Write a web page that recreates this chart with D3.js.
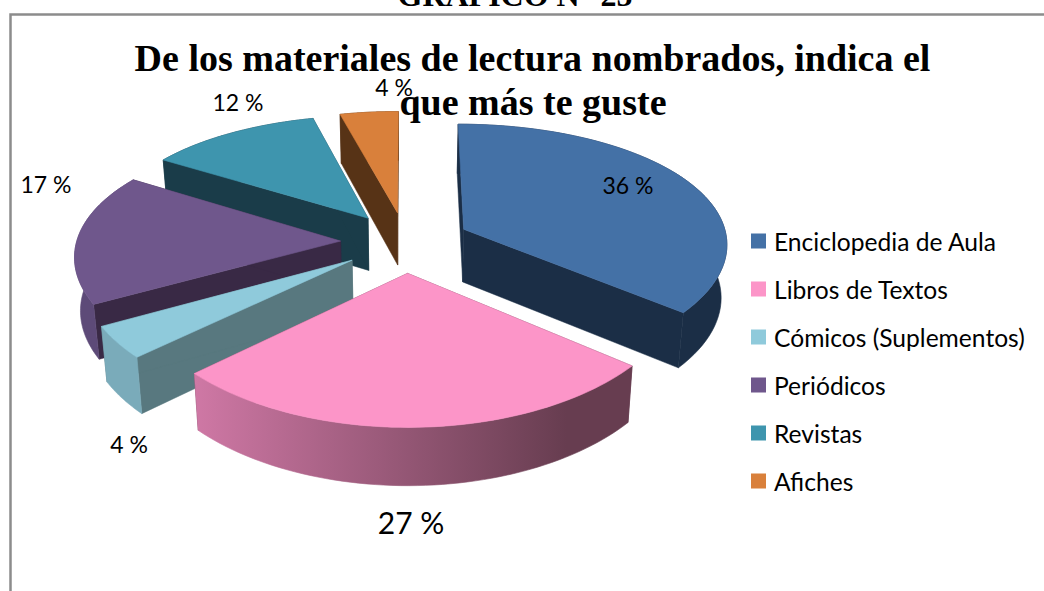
<!DOCTYPE html>
<html>
<head>
<meta charset="utf-8">
<script src="https://cdn.jsdelivr.net/npm/d3@7"></script>
<style>
  html, body { margin: 0; padding: 0; background: #fff; overflow: hidden; }
  svg { display: block; }
  .label { font-family: Lato, "Open Sans", sans-serif; fill: #000; }
  .title { font-family: "Liberation Serif", serif; font-weight: bold; fill: #000; }
</style>
</head>
<body>
<svg id="chart" width="1044" height="591"></svg>
<script>
var categories = ["Enciclopedia de Aula", "Libros de Textos", "Cómicos (Suplementos)", "Periódicos", "Revistas", "Afiches"];
var values = [36, 27, 4, 17, 12, 4];

// styles, same order as categories
var topColors = ["#4471a6", "#fc95c8", "#8fcadb", "#6f578c", "#3e95ae", "#d9803b"];
var faceColors = ["#1b2e46", "#673d50", "#58787f", "#392945", "#1a3c49", "#573316"];
var rimLeft = ["#1b2e46", "#cf78a5", "#7aabba", "#5d4a78", "#1a3c49", "#573316"];
var rimRight = ["#1b2e46", "#673d50", "#7aabba", "#5d4a78", "#1a3c49", "#573316"];

// label anchors (Excel had these dragged by hand)
var labelX = [628, 411, 129, 46, 238, 394];
var labelY = [185, 522, 444, 184, 102, 87];
var labelSize = [23, 30, 23, 23, 23, 23];

var drawOrder = [5, 4, 0, 3, 2, 1];

var cx = 405.5, cy = 242;
var radius = 264, explode = 65, tilt = 0.466, perspX = 2500, perspY = 1900, depth = 53, shrink = 0.018;

var svg = d3.select("#chart");
var defs = svg.append("defs");

// frame, the right side is outside the crop
svg.append("path")
    .attr("d", "M10.5,591V14.5H1044")
    .attr("fill", "none")
    .attr("stroke", "#8c8c8c")
    .attr("stroke-width", 2.5);

var slices = d3.pie().sort(null).value(function(d) { return d; })(values);

function project(d, a, r, t) {
    var mid = (d.startAngle + d.endAngle) / 2;
    var X = explode * Math.sin(mid) + r * Math.sin(a);
    var Z = explode * Math.cos(mid) + r * Math.cos(a);
    var px = 1 / (1 + Z / perspX), py = 1 / (1 + Z / perspY);
    return [cx + X * px * (1 - shrink * t), cy - tilt * Z * py + depth * Math.sqrt(py) * t];
}

function arcPoints(d, t) {
    return d3.range(0, 61).map(function(i) {
        return project(d, d.startAngle + (d.endAngle - d.startAngle) * i / 60, radius, t);
    });
}

var line = d3.line();

drawOrder.forEach(function(i) {
    var d = slices[i];
    var apexTop = project(d, 0, 0, 0), apexBot = project(d, 0, 0, 1);
    var topArc = arcPoints(d, 0), botArc = arcPoints(d, 1);
    var g = svg.append("g").attr("class", "slice");

    // radial faces
    [0, 60].forEach(function(k) {
        g.append("path")
            .attr("d", line([apexTop, topArc[k], botArc[k], apexBot]) + "Z")
            .attr("fill", faceColors[i])
            .attr("stroke", faceColors[i])
            .attr("stroke-width", 0.5);
    });

    // outer wall
    var xs = d3.extent(topArc, function(p) { return p[0]; });
    var grad = defs.append("linearGradient")
        .attr("id", "rim" + i)
        .attr("gradientUnits", "userSpaceOnUse")
        .attr("x1", xs[0]).attr("x2", xs[0] + (xs[1] - xs[0]) * 0.85)
        .attr("y1", 0).attr("y2", 0);
    grad.append("stop").attr("offset", 0).attr("stop-color", rimLeft[i]);
    grad.append("stop").attr("offset", 1).attr("stop-color", rimRight[i]);
    g.append("path")
        .attr("d", line(topArc.concat(botArc.slice().reverse())) + "Z")
        .attr("fill", "url(#rim" + i + ")")
        .attr("stroke", "url(#rim" + i + ")")
        .attr("stroke-width", 0.6);

    // top
    g.append("path")
        .attr("d", line([apexTop].concat(topArc)) + "Z")
        .attr("fill", topColors[i])
        .attr("stroke", topColors[i])
        .attr("stroke-width", 0.6);
});

// data labels
values.forEach(function(v, i) {
    svg.append("text")
        .attr("class", "label")
        .attr("x", labelX[i])
        .attr("y", labelY[i])
        .attr("text-anchor", "middle")
        .attr("dominant-baseline", "central")
        .style("font-size", labelSize[i] + "px")
        .text(v + " %");
});

// titles
svg.append("text").attr("class", "title")
    .attr("x", 515).attr("y", 6).attr("text-anchor", "middle")
    .style("font-size", "32px").text("GRÁFICO N° 25");
svg.append("text").attr("class", "title")
    .attr("x", 532.5).attr("y", 71).attr("text-anchor", "middle")
    .style("font-size", "38px").text("De los materiales de lectura nombrados, indica el");
svg.append("text").attr("class", "title")
    .attr("x", 533).attr("y", 115).attr("text-anchor", "middle")
    .style("font-size", "38px").text("que más te guste");

// legend
var legendY = d3.scalePoint().domain(categories).range([241, 481]);
var legend = svg.selectAll("g.legend").data(categories).enter().append("g")
    .attr("class", "legend")
    .attr("transform", function(d) { return "translate(751," + legendY(d) + ")"; });
legend.append("rect")
    .attr("y", -7.5).attr("width", 15).attr("height", 15)
    .attr("fill", function(d, i) { return topColors[i]; });
legend.append("text")
    .attr("class", "label")
    .attr("x", 23)
    .attr("dominant-baseline", "central")
    .style("font-size", "24.6px")
    .text(function(d) { return d; });
</script>
</body>
</html>
